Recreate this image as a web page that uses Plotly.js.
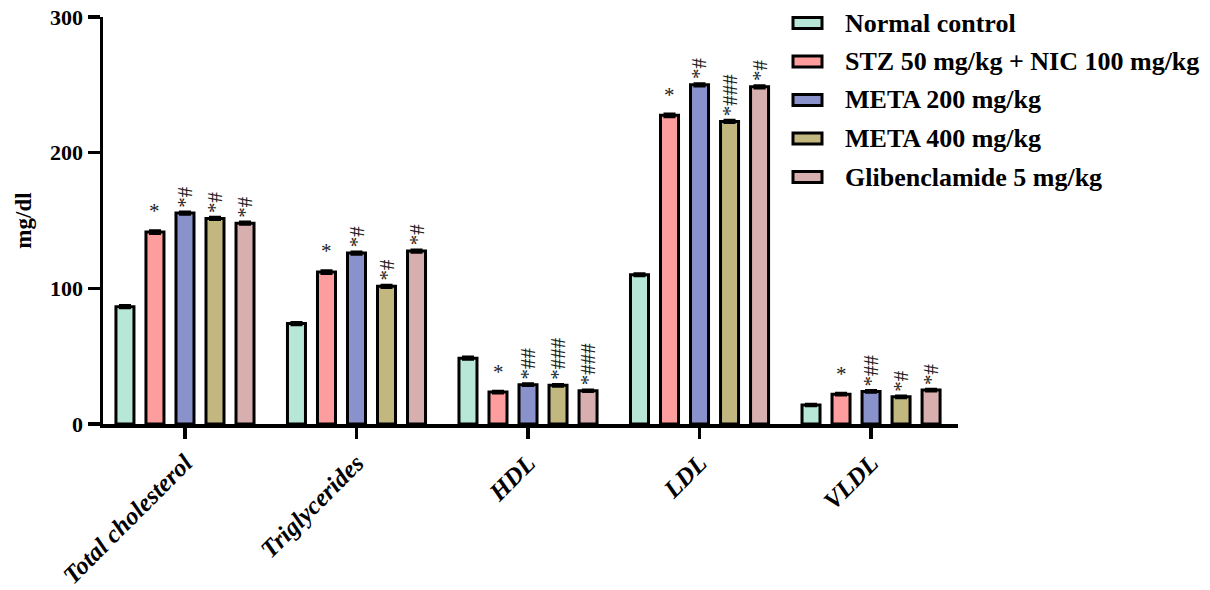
<!DOCTYPE html>
<html>
<head>
<meta charset="utf-8">
<script src="https://cdn.plot.ly/plotly-3.0.1.min.js"></script>
<style>html,body{margin:0;padding:0;background:#fff;}#chart{width:1210px;height:590px;}</style>
</head>
<body>
<div id="chart"></div>
<script>
// ---- data ----
const categories = ['Total cholesterol', 'Triglycerides', 'HDL', 'LDL', 'VLDL'];
const seriesNames = ['Normal control', 'STZ 50 mg/kg + NIC 100 mg/kg', 'META 200 mg/kg', 'META 400 mg/kg', 'Glibenclamide 5 mg/kg'];
const normalControl = [86.5, 74, 48.5, 110, 14];
const stzNic = [141.5, 112, 23.5, 227.5, 22];
const meta200 = [155.5, 126, 29, 250, 24];
const meta400 = [151.5, 101.5, 28.5, 223, 20];
const glibenclamide = [148, 127.5, 24.5, 248.5, 25];
const normalControlErr = [1, 1, 1, 1, 0.8];
const stzNicErr = [1.2, 1.2, 0.8, 1.2, 0.8];
const meta200Err = [1, 1, 0.8, 1, 0.8];
const meta400Err = [1, 1, 0.8, 1, 0.8];
const glibenclamideErr = [1, 1, 0.8, 1, 0.8];
const normalControlSig = ['', '', '', '', ''];
const stzNicSig = ['*', '*', '*', '*', '*'];
const meta200Sig = ['*#', '*#', '*##', '*#', '*##'];
const meta400Sig = ['*#', '*#', '*###', '*###', '*#'];
const glibenclamideSig = ['*#', '*#', '*###', '*#', '*#'];
const yTicks = [0, 100, 200, 300];

// ---- styling ----
const colors = ['#b7e7d6', '#fe9d9d', '#8a92cc', '#c2b87f', '#d7afaf'];
const values = [normalControl, stzNic, meta200, meta400, glibenclamide];
const errs = [normalControlErr, stzNicErr, meta200Err, meta400Err, glibenclamideErr];
const sigs = [normalControlSig, stzNicSig, meta200Sig, meta400Sig, glibenclamideSig];
const FONT = 'Liberation Serif, Times New Roman, serif';
const bargap = 0.125;
const nSeries = seriesNames.length;

const W = 1210, H = 590;
const M = {l: 103, r: 252, t: 17, b: 166};
const plotW = W - M.l - M.r, plotH = H - M.t - M.b;
const px2x = p => (p - M.l) / plotW;
const px2y = p => (H - M.b - p) / plotH;

const traces = values.map((v, i) => ({
  type: 'bar',
  name: seriesNames[i],
  x: categories,
  y: v,
  showlegend: false,
  marker: {color: colors[i], line: {color: '#000', width: 3}},
  error_y: {type: 'data', array: errs[i], visible: true, color: '#000', thickness: 2.5, width: 6},
  hoverinfo: 'x+y+name'
}));

const annotations = [];
sigs.forEach((s, i) => {
  s.forEach((txt, j) => {
    if (!txt) return;
    const slot = (1 - bargap) / nSeries;
    const rotated = txt.length > 1;
    annotations.push({
      x: j + (i - (nSeries - 1) / 2) * slot,
      y: values[i][j] + errs[i][j],
      xref: 'x', yref: 'y',
      text: txt,
      showarrow: false,
      textangle: rotated ? -90 : 0,
      xanchor: 'center', yanchor: 'bottom',
      yshift: rotated ? 2 : 5,
      font: {family: FONT, size: 21, color: '#222'}
    });
  });
});

// custom legend (wide swatches like the original)
const shapes = [];
const legTop = 23, legStep = 38.5, swL = 793, swR = 822, swH = 11, txtX = 843;
seriesNames.forEach((name, i) => {
  const cy = legTop + i * legStep;
  shapes.push({
    type: 'rect', xref: 'paper', yref: 'paper',
    x0: px2x(swL), x1: px2x(swR), y0: px2y(cy - swH / 2), y1: px2y(cy + swH / 2),
    fillcolor: colors[i], line: {color: '#000', width: 3}
  });
  annotations.push({
    xref: 'paper', yref: 'paper', x: px2x(txtX), y: px2y(cy),
    xanchor: 'left', yanchor: 'middle', showarrow: false,
    text: name,
    font: {family: FONT, size: 26, color: '#000', weight: 'bold'}
  });
});

const layout = {
  width: W, height: H,
  margin: M,
  paper_bgcolor: '#fff', plot_bgcolor: '#fff',
  barmode: 'group', bargap: bargap, bargroupgap: 0.4,
  showlegend: false,
  xaxis: {
    type: 'category',
    range: [-0.478, 4.507],
    showline: true, linecolor: '#000', linewidth: 3.5,
    ticks: 'outside', ticklen: 11, tickwidth: 3.5, tickcolor: '#000',
    tickangle: -45,
    tickfont: {family: FONT, size: 25, color: '#000', weight: 'bold', style: 'italic'},
    showgrid: false, zeroline: false, fixedrange: true, automargin: false
  },
  yaxis: {
    range: [0, 300],
    tickvals: yTicks, ticktext: yTicks.map(String),
    showline: true, linecolor: '#000', linewidth: 3.5,
    ticks: 'outside', ticklen: 12, tickwidth: 3.5, tickcolor: '#000',
    tickfont: {family: FONT, size: 22, color: '#000', weight: 'bold'},
    title: {text: 'mg/dl', font: {family: FONT, size: 23, color: '#000', weight: 'bold'}, standoff: 13},
    showgrid: false, zeroline: false, fixedrange: true, automargin: false
  },
  shapes: shapes,
  annotations: annotations
};

Plotly.newPlot('chart', traces, layout, {displayModeBar: false, staticPlot: true});
</script>
</body>
</html>
